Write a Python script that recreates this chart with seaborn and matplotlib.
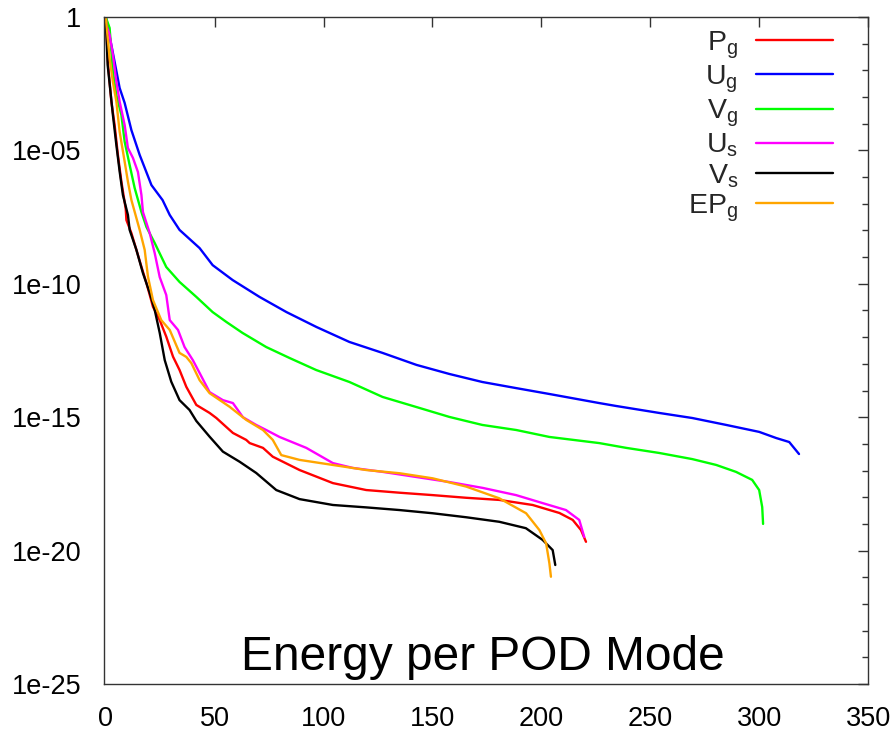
import numpy as np
import pandas as pd
import matplotlib
matplotlib.use("Agg")
import matplotlib.pyplot as plt
import seaborn as sns

# ---------------- data (y stored as log10 of energy) ----------------
series_names = ["P_g", "U_g", "V_g", "U_s", "V_s", "EP_g"]
legend_labels = [r"$\mathregular{P_g}$", r"$\mathregular{U_g}$", r"$\mathregular{V_g}$",
                 r"$\mathregular{U_s}$", r"$\mathregular{V_s}$", r"$\mathregular{EP_g}$"]
series_colors = ["#ff0000", "#0000ff", "#00ff00", "#ff00ff", "#000000", "#ffa500"]

pg_x = [0, 1.1, 2.6, 4.1, 5.6, 7.2, 9.2, 9.5, 11.8, 14.1, 16.4, 18.7, 21.7, 24.8, 27.8, 30.9,
        33.9, 37.0, 41.6, 47.7, 50.8, 55.4, 58.4, 64.5, 66.1, 72.2, 76.7, 89.0, 104.3, 119.6,
        134.9, 150.1, 165.5, 180.7, 196.0, 208.3, 214.4, 218.2, 220.5]
pg_log10 = [0, -1.80, -3.17, -4.05, -5.17, -6.17, -7.20, -7.61, -8.10, -8.73, -9.36, -9.97,
            -10.86, -11.36, -11.98, -12.73, -13.23, -13.86, -14.54, -14.84, -15.03, -15.37,
            -15.59, -15.85, -15.97, -16.15, -16.48, -16.98, -17.47, -17.73, -17.83, -17.92,
            -18.02, -18.10, -18.29, -18.59, -18.85, -19.23, -19.67]

ug_x = [0, 2.6, 6.4, 8.7, 11.8, 15.6, 21.0, 26.1, 29.4, 33.9, 43.1, 49.1, 58.3, 70.6, 83.0,
        96.8, 111.9, 127.1, 142.7, 157.8, 172.9, 188.5, 203.7, 226.6, 234.4, 254.1, 269.3,
        284.9, 300.0, 307.8, 313.8, 318.3]
ug_log10 = [0, -1.05, -2.66, -3.22, -4.24, -5.17, -6.30, -6.86, -7.42, -7.98, -8.66, -9.30,
            -9.86, -10.49, -11.06, -11.62, -12.18, -12.59, -13.04, -13.38, -13.68, -13.91,
            -14.13, -14.47, -14.58, -14.84, -15.03, -15.29, -15.55, -15.78, -15.93, -16.38]

vg_x = [0, 1.8, 3.3, 4.9, 7.2, 8.7, 11.0, 13.3, 16.4, 18.7, 22.5, 27.8, 33.9, 41.6, 49.1,
        55.4, 62.8, 73.7, 84.4, 96.6, 111.9, 127.1, 142.7, 157.8, 172.9, 188.5, 203.7,
        226.6, 239.0, 254.1, 269.3, 280.3, 289.4, 296.8, 300.0, 301.4, 301.8]
vg_log10 = [0, -0.41, -2.05, -2.92, -3.67, -4.67, -5.55, -6.41, -7.31, -7.87, -8.47, -9.37,
            -9.93, -10.49, -11.06, -11.43, -11.84, -12.37, -12.78, -13.23, -13.68, -14.24,
            -14.62, -14.99, -15.29, -15.48, -15.74, -15.97, -16.15, -16.34, -16.57, -16.79,
            -17.05, -17.35, -17.73, -18.37, -19.00]

us_x = [0, 0.3, 1.8, 3.3, 4.9, 6.4, 8.7, 10.2, 12.5, 14.8, 16.4, 17.1, 20.2, 22.5, 24.8, 27.8,
        29.4, 33.2, 36.2, 40.0, 43.1, 47.7, 53.8, 58.4, 63.0, 69.1, 73.7, 79.8, 92.1, 104.3,
        113.4, 127.2, 142.5, 157.8, 173.1, 188.4, 200.6, 211.3, 217.4, 219.7]
us_log10 = [0, -0.30, -0.67, -1.42, -2.43, -3.17, -4.05, -4.91, -5.28, -5.81, -6.67, -7.31,
            -8.10, -8.85, -9.75, -10.42, -11.36, -11.73, -12.37, -12.86, -13.34, -14.06,
            -14.36, -14.47, -15.00, -15.29, -15.48, -15.74, -16.15, -16.72, -16.90, -17.05,
            -17.24, -17.43, -17.65, -17.92, -18.22, -18.48, -18.85, -19.49]

vs_x = [0, 0.9, 3.3, 4.9, 6.4, 7.9, 10.2, 11.0, 14.1, 17.1, 20.2, 22.5, 24.8, 27.1, 30.1,
        33.9, 38.5, 41.6, 47.7, 53.8, 61.5, 69.1, 78.3, 89.0, 104.3, 119.6, 134.9, 150.1,
        165.5, 180.7, 192.9, 200.6, 205.2, 206.4]
vs_log10 = [0, -1.80, -3.67, -4.80, -5.79, -6.67, -7.42, -7.98, -8.73, -9.60, -10.34, -10.98,
            -11.84, -12.86, -13.67, -14.36, -14.73, -15.14, -15.73, -16.29, -16.67, -17.09,
            -17.73, -18.07, -18.29, -18.38, -18.48, -18.60, -18.75, -18.92, -19.16, -19.60,
            -19.98, -20.54]

epg_x = [0, 1.8, 3.3, 4.9, 6.4, 8.7, 10.2, 11.8, 15.6, 17.9, 19.4, 21.7, 25.5, 29.4, 33.9,
         37.0, 39.3, 43.1, 47.7, 56.9, 64.5, 72.2, 76.7, 80.6, 89.0, 104.3, 119.6, 134.9,
         150.1, 165.5, 180.7, 193.0, 199.1, 202.2, 203.7, 204.4]
epg_log10 = [0, -1.54, -2.43, -3.17, -4.30, -5.42, -6.17, -6.86, -7.98, -8.73, -9.73, -10.61,
             -11.36, -11.73, -12.59, -12.74, -12.97, -13.61, -14.10, -14.61, -15.10, -15.48,
             -15.85, -16.42, -16.60, -16.79, -16.98, -17.10, -17.29, -17.60, -18.04, -18.60,
             -19.23, -19.73, -20.48, -20.98]

x_ticks = [0, 50, 100, 150, 200, 250, 300, 350]
y_ticks = [1, 1e-5, 1e-10, 1e-15, 1e-20, 1e-25]
y_tick_labels = ["1", "1e-05", "1e-10", "1e-15", "1e-20", "1e-25"]
title_text = "Energy per POD Mode"

# ---------------- build long table ----------------
xs = [pg_x, ug_x, vg_x, us_x, vs_x, epg_x]
ys = [pg_log10, ug_log10, vg_log10, us_log10, vs_log10, epg_log10]
frames = []
for name, lab, xv, yv in zip(series_names, legend_labels, xs, ys):
    frames.append(pd.DataFrame({"mode": xv, "energy": 10.0 ** np.asarray(yv), "series": lab}))
df = pd.concat(frames, ignore_index=True)

# ---------------- style ----------------
sns.set_style("white")
plt.rcParams["font.family"] = ["Liberation Sans", "DejaVu Sans"]
plt.rcParams["mathtext.fontset"] = "custom"
plt.rcParams["mathtext.rm"] = "Liberation Sans"
plt.rcParams["mathtext.it"] = "Liberation Sans:italic"

fig = plt.figure(figsize=(8.94, 7.31), dpi=100)
ax = fig.add_axes([0.1158, 0.0643, 0.971 - 0.1158, 0.9767 - 0.0643])

sns.lineplot(data=df, x="mode", y="energy", hue="series", hue_order=legend_labels,
             palette=dict(zip(legend_labels, series_colors)), sort=False,
             estimator=None, linewidth=1.7, ax=ax)

ax.set_yscale("log")
ax.set_xlim(-1, 350)
ax.set_ylim(1e-25, 1)
ax.set_xticks(x_ticks)
ax.set_xticklabels([str(t) for t in x_ticks])
ax.set_yticks(y_ticks)
ax.set_yticklabels(y_tick_labels)
ax.yaxis.set_minor_locator(matplotlib.ticker.LogLocator(base=10, subs=[1.0], numticks=40))
ax.yaxis.set_minor_formatter(matplotlib.ticker.NullFormatter())
ax.set_xlabel("")
ax.set_ylabel("")

for s in ax.spines.values():
    s.set_color("#333333")
    s.set_linewidth(1.0)
ax.tick_params(axis="both", which="both", direction="in", top=True, right=True,
               color="#333333", width=1.0, labelsize=19.5, labelcolor="black")
ax.tick_params(axis="both", which="major", length=7)
ax.tick_params(axis="y", which="minor", length=4)
ax.tick_params(axis="x", which="major", pad=16)
ax.tick_params(axis="y", which="major", pad=16)

ax.text(0.496, 0.021, title_text, transform=ax.transAxes, ha="center", va="baseline",
        fontsize=34.5, color="black")

leg = ax.legend(loc="upper right", bbox_to_anchor=(0.954, 0.9815), frameon=False,
                markerfirst=False, fontsize=20.5, handlelength=2.7, handletextpad=0.63,
                labelspacing=0.1, borderpad=0, borderaxespad=0)

fig.savefig("out.png", dpi=100)
